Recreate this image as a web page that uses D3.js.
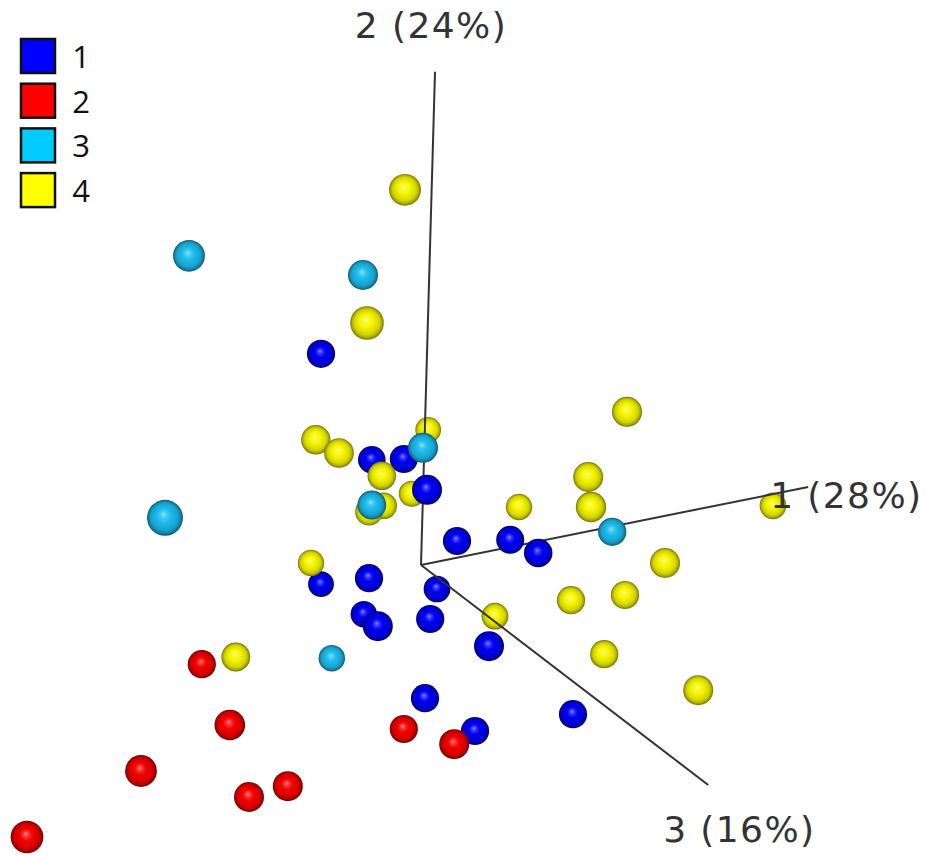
<!DOCTYPE html>
<html>
<head>
<meta charset="utf-8">
<script src="https://cdn.jsdelivr.net/npm/d3@7"></script>
<style>
  body { margin: 0; background: #fff; }
  svg { display: block; }
</style>
</head>
<body>
<div id="chart"></div>
<script>
// legend categories
const groups = ['1', '2', '3', '4'];

// projected PCA scores [u, v, depth] (u: screen-right, v: screen-up, depth: toward viewer)
const group1 = [
  [-2.50, 5.28, -0.3], [-1.23, 2.63, -0.4], [-0.43, 2.65, -0.33], [0.15, 1.88, 0],
  [0.90, 0.60, -0.3], [2.23, 0.63, -0.33], [2.93, 0.30, -0.25], [-2.50, -0.48, -0.7],
  [-1.30, -0.33, -0.3], [-1.43, -1.23, -0.6], [-1.08, -1.53, 0], [0.40, -0.60, -0.55],
  [0.23, -1.35, -0.3], [1.70, -2.03, 0], [0.10, -3.33, -0.3], [1.35, -4.15, -0.3],
  [3.80, -3.73, -0.3]
];
const group2 = [
  [-5.48, -2.48, -0.3], [-4.78, -4.00, 0.1], [-7.00, -5.15, 0.3], [-4.30, -5.80, 0],
  [-3.33, -5.53, 0], [-9.85, -6.80, 0.45], [-0.43, -4.10, -0.3], [0.83, -4.48, 0]
];
const group3 = [
  [-5.80, 7.73, 0.3], [-1.45, 7.25, 0], [0.05, 2.93, 0], [-1.23, 1.50, -0.2],
  [-6.40, 1.18, 1], [4.78, 0.83, -0.3], [-2.23, -2.33, -0.6]
];
const group4 = [
  [-0.40, 9.38, 0.3], [-1.35, 6.05, 0.6], [5.15, 3.83, 0], [-2.63, 3.13, -0.1],
  [-2.05, 2.80, -0.05], [0.18, 3.38, -0.7], [-0.98, 2.23, -0.25], [-0.23, 1.78, -0.67],
  [-1.30, 1.33, -0.4], [-0.93, 1.48, -0.6], [4.18, 2.20, 0], [4.25, 1.45, 0.05],
  [2.45, 1.45, -0.6], [8.80, 1.48, -0.55], [6.10, 0.05, 0], [3.75, -0.88, -0.3],
  [5.10, -0.75, -0.3], [4.58, -2.23, -0.3], [6.93, -3.13, 0], [1.85, -1.28, -0.55],
  [-2.75, 0.05, -0.6], [-4.63, -2.30, -0.2]
];

// axis ends [u, v] and labels
const axisLabels = ['1 (28%)', '2 (24%)', '3 (16%)'];
const axisEnds = [[9.68, 1.95], [0.35, 12.33], [7.18, -5.50]];
const axisDepth = -0.5;

const width = 927, height = 857;
const colors = { '1': '#0000f4', '2': '#f40000', '3': '#1cbcee', '4': '#f6f600' };
const legendColors = { '1': '#0000ff', '2': '#ff0000', '3': '#00ccff', '4': '#ffff00' };

const x = d3.scaleLinear().domain([-10, 10]).range([21, 821]);
const y = d3.scaleLinear().domain([-10, 10]).range([965, 165]);
const r = d3.scaleLinear().domain([-1, 1]).range([12, 18]);

const svg = d3.select('#chart').append('svg')
  .attr('width', width)
  .attr('height', height);

// sphere shading
const defs = svg.append('defs');
groups.forEach(g => {
  const base = d3.color(colors[g]);
  const mix = (t) => d3.interpolateRgb(base, '#ffffff')(t);
  const grad = defs.append('radialGradient')
    .attr('id', 'sph' + g)
    .attr('cx', '50%').attr('cy', '50%').attr('r', '50%')
    .attr('fx', '46%').attr('fy', '40%');
  [
    [0, mix(0.55)], [0.16, mix(0.22)], [0.38, base.formatHex()],
    [0.74, base.darker(0.4).formatHex()], [0.9, base.darker(1.1).formatHex()],
    [1, base.darker(2.2).formatHex()]
  ].forEach(([o, c]) => grad.append('stop').attr('offset', o).attr('stop-color', c));
});

const points = [];
[group1, group2, group3, group4].forEach((arr, i) => {
  arr.forEach(d => points.push({ group: groups[i], u: d[0], v: d[1], z: d[2] }));
});
points.sort((a, b) => a.z - b.z);

const drawSpheres = (layer, data) => layer.selectAll('circle')
  .data(data)
  .join('circle')
  .attr('cx', d => x(d.u))
  .attr('cy', d => y(d.v))
  .attr('r', d => r(d.z))
  .attr('fill', d => `url(#sph${d.group})`);

drawSpheres(svg.append('g'), points.filter(d => d.z < axisDepth));

// axes from the origin
svg.append('g').selectAll('line')
  .data(axisEnds)
  .join('line')
  .attr('x1', x(0)).attr('y1', y(0))
  .attr('x2', d => x(d[0])).attr('y2', d => y(d[1]))
  .attr('stroke', '#333')
  .attr('stroke-width', 2);

drawSpheres(svg.append('g'), points.filter(d => d.z >= axisDepth));

// axis labels
const labelPos = [
  { dx: -38, dy: 21, anchor: 'start' },
  { dx: -4, dy: -34, anchor: 'middle' },
  { dx: -45, dy: 57, anchor: 'start' }
];
svg.append('g').selectAll('text')
  .data(axisEnds)
  .join('text')
  .attr('x', (d, i) => x(d[0]) + labelPos[i].dx)
  .attr('y', (d, i) => y(d[1]) + labelPos[i].dy)
  .attr('text-anchor', (d, i) => labelPos[i].anchor)
  .style('font-family', "'DejaVu Sans', Verdana, sans-serif")
  .style('font-size', '36px')
  .style('letter-spacing', '1.4px')
  .style('fill', '#333')
  .text((d, i) => axisLabels[i]);

// legend
const legend = svg.append('g').selectAll('g')
  .data(groups)
  .join('g')
  .attr('transform', (d, i) => `translate(21, ${39 + i * 44.7})`);

legend.append('rect')
  .attr('width', 34)
  .attr('height', 34)
  .attr('fill', d => legendColors[d])
  .attr('stroke', '#111')
  .attr('stroke-width', 2.5);

legend.append('text')
  .attr('x', 60)
  .attr('y', 29)
  .attr('text-anchor', 'middle')
  .style('font-family', "'Open Sans', sans-serif")
  .style('font-size', '31px')
  .style('fill', '#111')
  .text(d => d);
</script>
</body>
</html>
